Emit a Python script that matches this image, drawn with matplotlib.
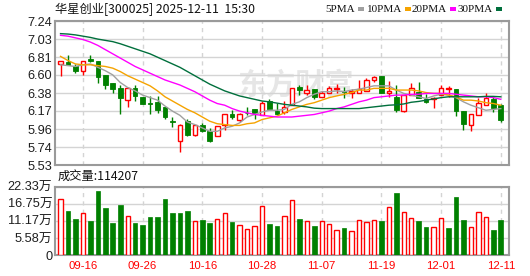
import numpy as np
import matplotlib
matplotlib.use('Agg')
import matplotlib.pyplot as plt

plt.rcParams['font.family'] = ['Liberation Sans', 'Noto Sans CJK SC', 'DejaVu Sans']

# daily candles, 2025-09-11 .. 2025-12-11
opens = [6.73, 6.75, 6.71, 6.65, 6.79, 6.76, 6.60, 6.50, 6.45, 6.30,
         6.44, 6.34, 6.27, 6.28, 6.22, 6.05, 5.81, 6.05, 5.89, 6.00,
         5.93, 5.88, 6.00, 6.13, 6.06, 6.15, 6.19, 6.12, 6.29, 6.17,
         6.155, 6.24, 6.46, 6.39, 6.43, 6.34, 6.39, 6.435, 6.405, 6.39,
         6.39, 6.41, 6.535, 6.59, 6.39, 6.34, 6.17, 6.36, 6.40, 6.31,
         6.315, 6.36, 6.43, 6.43, 6.17, 6.01, 6.12, 6.24, 6.31, 6.24]
highs = [6.76, 6.84, 6.73, 6.77, 6.84, 6.77, 6.60, 6.50, 6.48, 6.46,
         6.48, 6.34, 6.35, 6.35, 6.22, 6.10, 6.02, 6.08, 6.00, 6.03,
         5.965, 5.99, 6.13, 6.18, 6.15, 6.215, 6.19, 6.29, 6.31, 6.27,
         6.29, 6.45, 6.48, 6.48, 6.43, 6.41, 6.47, 6.49, 6.46, 6.43,
         6.54, 6.56, 6.59, 6.59, 6.53, 6.48, 6.36, 6.50, 6.51, 6.37,
         6.34, 6.48, 6.47, 6.43, 6.17, 6.13, 6.32, 6.38, 6.34, 6.26]
lows = [6.59, 6.72, 6.62, 6.60, 6.75, 6.50, 6.43, 6.39, 6.14, 6.22,
        6.29, 6.25, 6.13, 6.15, 6.08, 5.985, 5.68, 5.88, 5.87, 5.92,
        5.80, 5.87, 5.94, 6.08, 6.04, 6.12, 6.08, 6.12, 6.19, 6.13,
        6.13, 6.24, 6.36, 6.36, 6.31, 6.34, 6.39, 6.39, 6.33, 6.33,
        6.39, 6.41, 6.51, 6.39, 6.34, 6.16, 6.16, 6.36, 6.32, 6.27,
        6.21, 6.36, 6.34, 6.11, 5.94, 5.93, 6.12, 6.24, 6.16, 6.04]
closes = [6.76, 6.72, 6.65, 6.77, 6.76, 6.57, 6.48, 6.43, 6.33, 6.45,
          6.35, 6.26, 6.26, 6.18, 6.10, 6.04, 6.01, 5.89, 6.00, 5.93,
          5.82, 5.99, 6.13, 6.10, 6.13, 6.145, 6.15, 6.27, 6.195, 6.13,
          6.22, 6.45, 6.42, 6.42, 6.34, 6.39, 6.44, 6.445, 6.40, 6.41,
          6.43, 6.54, 6.58, 6.39, 6.41, 6.18, 6.36, 6.45, 6.32, 6.28,
          6.33, 6.45, 6.44, 6.17, 6.015, 6.13, 6.27, 6.33, 6.21, 6.06]

# volume in units of 万 (10k shares); 1 = up day (red), 0 = down day (green)
volumes = [18.2, 14.5, 11.8, 13.6, 11.1, 20.9, 15.4, 10.6, 16.3, 12.6,
           10.5, 9.8, 12.3, 12.3, 18.3, 13.7, 13.7, 14.4, 11.1, 11.4,
           10.5, 11.7, 13.6, 10.9, 9.8, 8.4, 9.5, 16.0, 10.1, 9.5,
           12.6, 17.9, 11.8, 11.1, 9.5, 11.1, 10.0, 8.2, 8.8, 7.8,
           11.3, 10.8, 11.3, 11.1, 15.6, 20.3, 14.05, 12.0, 11.1, 9.15,
           9.15, 12.0, 8.8, 18.95, 11.4, 9.15, 14.05, 12.3, 8.2, 11.4207]
vol_up = [1, 0, 0, 1, 0, 0, 0, 0, 0, 1,
          0, 0, 0, 0, 0, 0, 0, 0, 1, 0,
          0, 1, 1, 0, 1, 1, 1, 1, 0, 0,
          1, 1, 0, 1, 0, 1, 1, 1, 0, 1,
          1, 1, 1, 0, 1, 0, 1, 1, 0, 0,
          1, 1, 0, 0, 0, 1, 1, 1, 0, 0]

ma5 = [6.72, 6.71, 6.70, 6.72, 6.73, 6.69, 6.65, 6.60, 6.51, 6.45,
       6.41, 6.36, 6.33, 6.30, 6.23, 6.17, 6.12, 6.04, 6.01, 5.97,
       5.93, 5.93, 5.97, 5.99, 6.03, 6.10, 6.13, 6.16, 6.18, 6.18,
       6.19, 6.25, 6.28, 6.33, 6.37, 6.40, 6.40, 6.41, 6.40, 6.42,
       6.43, 6.45, 6.47, 6.47, 6.47, 6.42, 6.38, 6.36, 6.34, 6.32,
       6.35, 6.37, 6.36, 6.33, 6.28, 6.24, 6.21, 6.18, 6.19, 6.20]
ma10 = [6.82, 6.77, 6.73, 6.72, 6.72, 6.71, 6.70, 6.68, 6.64, 6.59,
        6.55, 6.51, 6.47, 6.41, 6.34, 6.29, 6.24, 6.19, 6.15, 6.10,
        6.05, 6.02, 6.01, 6.00, 6.00, 6.02, 6.03, 6.07, 6.09, 6.11,
        6.15, 6.19, 6.22, 6.25, 6.27, 6.30, 6.33, 6.35, 6.37, 6.39,
        6.42, 6.42, 6.44, 6.44, 6.44, 6.42, 6.42, 6.42, 6.41, 6.39,
        6.38, 6.38, 6.36, 6.34, 6.30, 6.30, 6.29, 6.27, 6.26, 6.24]
ma20 = [7.07, 7.06, 7.04, 7.02, 6.99, 6.95, 6.90, 6.85, 6.80, 6.75,
        6.70, 6.66, 6.62, 6.58, 6.54, 6.51, 6.48, 6.44, 6.40, 6.35,
        6.30, 6.26, 6.24, 6.20, 6.17, 6.15, 6.13, 6.12, 6.11, 6.10,
        6.10, 6.10, 6.11, 6.12, 6.13, 6.15, 6.17, 6.20, 6.22, 6.25,
        6.28, 6.30, 6.33, 6.34, 6.35, 6.36, 6.36, 6.37, 6.37, 6.38,
        6.38, 6.38, 6.38, 6.37, 6.36, 6.35, 6.34, 6.34, 6.33, 6.31]
ma30 = [7.09, 7.085, 7.075, 7.06, 7.045, 7.025, 7.01, 6.995, 6.97, 6.94,
        6.91, 6.88, 6.85, 6.81, 6.77, 6.73, 6.69, 6.64, 6.59, 6.54,
        6.49, 6.45, 6.41, 6.38, 6.35, 6.33, 6.31, 6.29, 6.28, 6.265,
        6.25, 6.24, 6.23, 6.22, 6.205, 6.20, 6.20, 6.20, 6.20, 6.20,
        6.20, 6.21, 6.22, 6.23, 6.24, 6.245, 6.255, 6.275, 6.285, 6.30,
        6.315, 6.33, 6.34, 6.34, 6.34, 6.34, 6.34, 6.345, 6.345, 6.34]

date_idx = [3, 11, 19, 27, 35, 43, 51, 59]
date_labels = ['09-16', '09-26', '10-16', '10-28', '11-07', '11-19', '12-01', '12-11']
price_ticks = ['5.53', '5.74', '5.96', '6.17', '6.38', '6.60', '6.81', '7.03', '7.24']
vol_ticks = ['0', '5.58万', '11.17万', '16.75万', '22.33万']

RED = '#ff0000'
GREEN = '#008000'
GRID = '#d4d4d4'
BORDER = '#9a9a9a'

W, H = 530, 276
fig = plt.figure(figsize=(W / 100, H / 100), dpi=100)
fig.patch.set_facecolor('white')

def fx(px):
    return px / W

def fy(py):
    return 1 - py / H

ax1 = fig.add_axes([fx(55), fy(165), fx(509) - fx(55), fy(21) - fy(165)])
ax2 = fig.add_axes([fx(55), fy(255), fx(509) - fx(55), fy(186.7) - fy(255)])

n = len(closes)
x = np.arange(n)
xlim = (-0.74, 60.1)

for ax in (ax1, ax2):
    ax.set_xlim(*xlim)
    for s in ax.spines.values():
        s.set_color(BORDER)
        s.set_linewidth(1.5)
    ax.set_xticks(date_idx)
    ax.grid(axis='x', color=GRID, lw=1, ls=(0, (3, 3)))
    ax.grid(axis='y', color=GRID, lw=1, ls='-')
    ax.set_axisbelow(True)
    ax.tick_params(length=0)

# watermark
ax1.text(0.53, 0.56, '东方财富', transform=ax1.transAxes, ha='center', va='center',
         fontsize=21, fontweight='bold', color='#e6e6e6', family=['Noto Sans CJK SC'],
         zorder=0.5)

# candles
bw = 0.62
for i in x:
    o, h, l, c = opens[i], highs[i], lows[i], closes[i]
    if c >= o:
        top, bot = c, o
        ax1.vlines(i, top, h, color=RED, lw=1, zorder=2)
        ax1.vlines(i, l, bot, color=RED, lw=1, zorder=2)
        ax1.bar(i, max(top - bot, 0.004), bottom=bot, width=bw, facecolor='white',
                edgecolor=RED, lw=1, zorder=3)
    else:
        ax1.vlines(i, l, h, color=GREEN, lw=1, zorder=2)
        ax1.bar(i, max(o - c, 0.004), bottom=c, width=bw, facecolor=GREEN,
                edgecolor=GREEN, lw=0.6, zorder=3)

ax1.plot(x, ma5, color='#a0a0a0', lw=1, zorder=4)
ax1.plot(x, ma10, color='#f5a300', lw=1, zorder=4)
ax1.plot(x, ma20, color='#ff00ff', lw=1, zorder=4)
ax1.plot(x, ma30, color='#006f3c', lw=1, zorder=4)

ax1.set_ylim(5.53, 7.24)
ax1.set_yticks(np.linspace(5.53, 7.24, 9))
ax1.set_yticklabels(price_ticks)
ax1.set_xticklabels([])
ax1.tick_params(axis='y', pad=2, labelsize=9.2, labelcolor='#1e1e1e')

# volume bars
vol_vals = np.array(volumes) * 10000
for i in x:
    if vol_up[i]:
        ax2.bar(i, vol_vals[i], width=0.58, facecolor='white', edgecolor=RED, lw=1, zorder=3)
    else:
        ax2.bar(i, vol_vals[i], width=0.62, facecolor=GREEN, edgecolor=GREEN, lw=0.5, zorder=3)

ax2.set_ylim(0, 223300)
ax2.set_yticks(np.linspace(0, 223300, 5))
ax2.set_yticklabels(vol_ticks)
ax2.set_xticklabels(date_labels)
ax2.tick_params(axis='y', pad=2, labelsize=9.2, labelcolor='#1e1e1e')
ax2.tick_params(axis='x', pad=4, labelsize=8.2, labelcolor=RED)

# header texts
fig.text(fx(55), fy(9), '华星创业[300025] 2025-12-11  15:30', ha='left', va='center',
         fontsize=8.8, family=['Noto Sans CJK SC', 'DejaVu Sans'], color='#111111')
fig.text(fx(58), fy(176.5), '成交量:114207', ha='left', va='center',
         fontsize=8.8, family=['Noto Sans CJK SC', 'DejaVu Sans'], color='#111111')

legend_items = [('5PMA', 325, '#a0a0a0'), ('10PMA', 367, '#f5a300'),
                ('20PMA', 412, '#ff00ff'), ('30PMA', 458, '#006f3c')]
renderer = fig.canvas.get_renderer()
for label, tx, col in legend_items:
    t = fig.text(fx(tx), fy(9), label, ha='left', va='center', fontsize=8,
                 family=['Liberation Serif'], color='#111111')
    x_end = t.get_window_extent(renderer).x1
    fig.patches.append(plt.Rectangle((fx(x_end + 3), fy(10.5)), fx(6), 3 / H,
                                     transform=fig.transFigure,
                                     facecolor=col, edgecolor='none'))

fig.savefig('out.png', dpi=100, facecolor='white')
